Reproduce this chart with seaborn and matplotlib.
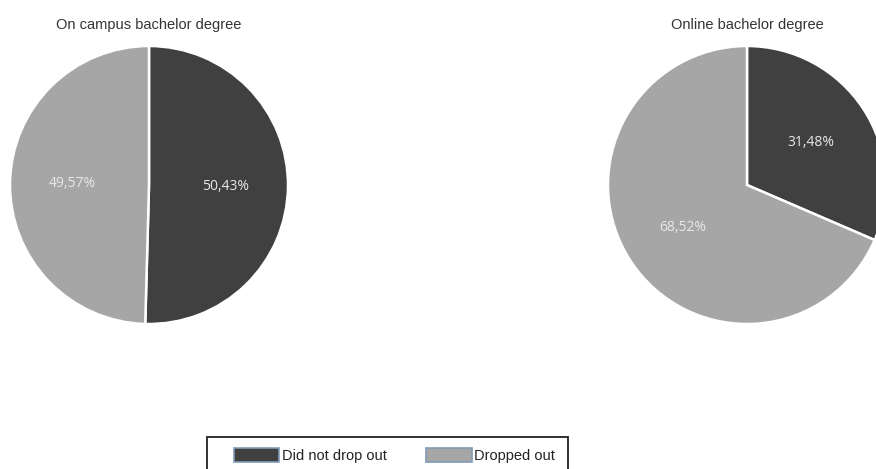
import matplotlib
matplotlib.use("Agg")
import matplotlib.pyplot as plt
from matplotlib.patches import Patch, Rectangle
import seaborn as sns

categories = ["Did not drop out", "Dropped out"]
titles = ["On campus bachelor degree", "Online bachelor degree"]
on_campus = [50.43, 49.57]
online = [31.48, 68.52]
colors = ["#404040", "#a6a6a6"]

sns.set_theme(style="white")
plt.rcParams['font.family'] = ['Liberation Sans', 'DejaVu Sans']

W, H = 876, 469
fig = plt.figure(figsize=(W / 100, H / 100), dpi=100)
ax = fig.add_axes([0, 0, 1, 1])

def fmt(p):
    return f"{p:.2f}%".replace('.', ',')

R = 139
for vals, cx, title in [(on_campus, 149, titles[0]), (online, 747, titles[1])]:
    cy = H - 185
    ax.pie(vals, colors=colors, startangle=90, counterclock=False,
           center=(cx, cy), radius=R, autopct=fmt, pctdistance=0.55,
           wedgeprops=dict(edgecolor='white', linewidth=1.8),
           textprops=dict(color='#e8e8e8', fontsize=10, family=['Open Sans', 'DejaVu Sans']),
           frame=True)
    ax.text(cx, H - 25, title, ha='center', va='center', fontsize=10.5, color='#333333')

ax.set_xlim(0, W)
ax.set_ylim(0, H)
ax.set_aspect('equal')
ax.axis('off')

# legend frame (extends past bottom edge as in the reference)
fig.patches.append(Rectangle((207 / W, -0.05), (568 - 207) / W, 0.05 + (H - 437) / H,
                             transform=fig.transFigure, facecolor='white',
                             edgecolor='#222222', linewidth=1.3, zorder=0))

handles = [Patch(facecolor=c, edgecolor='#7f9bb8', linewidth=1.2) for c in colors]
leg = fig.legend(handles, categories, loc='upper left',
                 bbox_to_anchor=(234 / W, 1 - 448 / H), ncol=2, fontsize=10.5,
                 frameon=False,
                 handlelength=3.1, handleheight=1.1, handletextpad=0.2,
                 columnspacing=2.7, borderpad=0.0, borderaxespad=0)
for t in leg.get_texts():
    t.set_color('#222222')

fig.savefig("out.png", dpi=100)
